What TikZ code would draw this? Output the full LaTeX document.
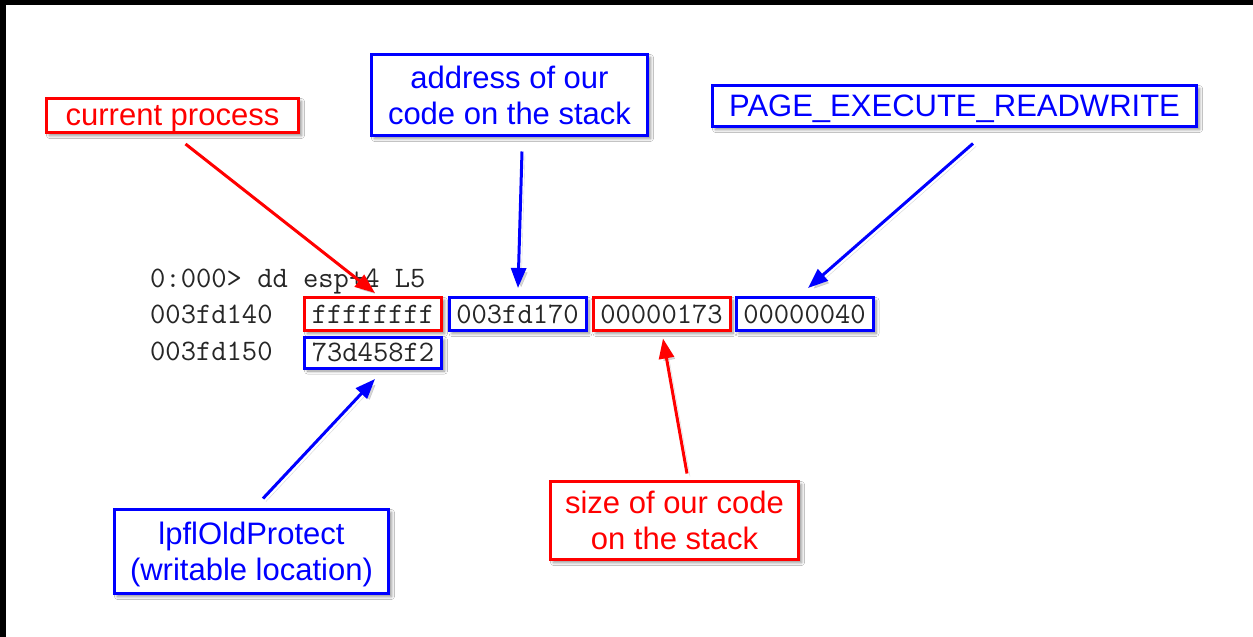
\documentclass[tikz,border=0pt]{standalone}
\usepackage{fontspec}
\setmainfont{Liberation Sans}
\usetikzlibrary{arrows.meta,shadows.blur}
\definecolor{pred}{RGB}{255,0,0}
\definecolor{pblue}{RGB}{0,0,255}
\begin{document}
\begin{tikzpicture}[x=1pt,y=-1pt,
  shad/.style={blur shadow={shadow xshift=3pt,shadow yshift=-3pt,shadow blur steps=6,shadow opacity=45,shadow blur radius=3pt}},
  lbl/.style={draw,line width=3pt,fill=white,shad,font=\fontsize{31}{36}\selectfont,align=center,inner sep=0pt,text depth=0pt},
  redlbl/.style={lbl,draw=pred,text=pred},
  bluelbl/.style={lbl,draw=pblue,text=pblue},
  cell/.style={draw,line width=3pt,fill=white,shad,font=\fontsize{29.7}{36}\ttfamily,text=black!85,
    minimum width=137pt,minimum height=33pt,inner sep=0pt,text height=18pt,text depth=0pt},
  redcell/.style={cell,draw=pred},
  bluecell/.style={cell,draw=pblue},
  dump/.style={font=\fontsize{29.7}{36}\ttfamily,text=black!85,inner sep=0pt,anchor=base west},
  arr/.style={line width=3pt,-{Triangle[length=20pt,width=15pt]},
    preaction={draw=black!45,opacity=0.35,transform canvas={shift={(3pt,-3pt)}}}},
  redarr/.style={arr,draw=pred,fill=pred},
  bluearr/.style={arr,draw=pblue,fill=pblue}]
\useasboundingbox (0,0) rectangle (1253,637);
\fill[white] (0,0) rectangle (1253,637);
\fill[black] (0,0) rectangle (1253,5);
\fill[black] (0,0) rectangle (6,637);

% labels
\node[redlbl,minimum width=252pt,minimum height=34pt] (cp) at (172.5,115.5) {current process};
\node[bluelbl,minimum width=276pt,minimum height=81pt] (addr) at (509.5,95) {address of our\\code on the stack};
\node[bluelbl,minimum width=484pt,minimum height=41pt,text height=20pt] (page) at (954.5,106) {PAGE\_EXECUTE\_READWRITE};
\node[bluelbl,minimum width=274pt,minimum height=84pt] (lpfl) at (251.5,551.5) {lpflOldProtect\\(writable location)};
\node[redlbl,minimum width=248pt,minimum height=78pt] (size) at (674.5,520.5) {size of our code\\on the stack};

% dump text
\node[dump] (cmd) at (150,287) {0:000> dd esp+4 L5};
\node[dump] (a1) at (150,323) {003fd140};
\node[dump] (a2) at (150,360) {003fd150};

% cells
\node[redcell] (ff) at (373,314) {ffffffff};
\node[bluecell] (fd) at (517.5,314) {003fd170};
\node[redcell] (sz) at (661.5,314) {00000173};
\node[bluecell] (pe) at (804.5,314) {00000040};
\node[bluecell,minimum height=31pt] (f2) at (373,352.5) {73d458f2};

% arrows
\draw[redarr] ([xshift=13pt,yshift=-10pt]cp.south) -- ([xshift=2pt,yshift=3pt]ff.north);
\draw[bluearr] ([xshift=12.5pt,yshift=-14.5pt]addr.south) -- ([xshift=0.5pt,yshift=8pt]fd.north);
\draw[bluearr] ([xshift=18.5pt,yshift=-15.5pt]page.south) -- ([xshift=3.5pt,yshift=8pt]pe.north);
\draw[bluearr] ([xshift=11.5pt,yshift=9.5pt]lpfl.north) -- ([xshift=2pt,yshift=-9.5pt]f2.south);
\draw[redarr] ([xshift=12.5pt,yshift=6.5pt]size.north) -- ([xshift=1.5pt,yshift=-6.5pt]sz.south);
\end{tikzpicture}
\end{document}
